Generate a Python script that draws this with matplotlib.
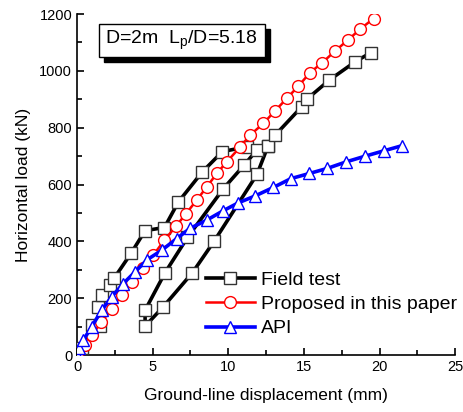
import matplotlib
matplotlib.use('Agg')
import matplotlib.pyplot as plt
from matplotlib.patches import Rectangle
from matplotlib.ticker import MultipleLocator

plt.rcParams['font.family'] = ['Liberation Sans', 'DejaVu Sans']

#field test (virgin branch, unload-reload loop, then on to the end)
field_x = [0.3, 0.97, 1.52, 1.41, 1.67, 2.18, 2.47, 3.57, 4.5, 5.78, 6.7, 8.29, 9.61, 11.22, 12.62,
           11.9, 9.08, 7.63, 5.7, 4.5, 4.5, 5.82, 7.3, 9.68, 11.04, 11.88, 12.62,
           13.1, 14.86, 15.23, 16.69, 18.39, 19.42]
field_y = [25, 106, 102, 170, 213, 246, 272, 358, 438, 449, 539, 645, 716, 733, 735,
           636, 402, 290, 170, 102, 158, 290, 414, 586, 668, 721, 735,
           774, 874, 902, 968, 1032, 1064]

#proposed model
prop_x = [0.0, 0.5, 1.0, 1.6, 2.29, 2.95, 3.61, 4.39, 5.05, 5.78, 6.55, 7.21, 7.91, 8.58, 9.24, 9.9,
          10.8, 11.44, 12.32, 13.1, 13.87, 14.64, 15.41, 16.22, 17.06, 17.9, 18.7, 19.6]
prop_y = [0, 35, 72, 115, 164, 211, 258, 305, 352, 405, 454, 498, 545, 592, 639, 680,
          733, 774, 815, 860, 903, 947, 994, 1029, 1070, 1108, 1146, 1184]

#API p-y
api_x = [0.0, 0.1, 0.42, 0.97, 1.63, 2.29, 3.06, 3.84, 4.62, 5.6, 6.59, 7.47, 8.58, 9.63, 10.67,
         11.77, 12.98, 14.14, 15.36, 16.55, 17.8, 19.05, 20.3, 21.5]
api_y = [0, 24, 53, 100, 158, 205, 252, 293, 335, 369, 410, 446, 475, 507, 536,
         560, 590, 621, 639, 657, 680, 700, 719, 737]

fig = plt.figure(figsize=(4.64, 4.12), dpi=100)
ax = fig.add_axes([0.166, 0.138, 0.815, 0.828])

ax.plot(field_x, field_y, color='black', lw=2.6, marker='s', ms=8,
        mfc='white', mec='#333333', mew=1.0, label='Field test', zorder=3)
ax.plot(prop_x, prop_y, color='red', lw=1.8, marker='o', ms=8.5,
        mfc='white', mec='red', mew=1.0, label='Proposed in this paper', zorder=4)
ax.plot(api_x, api_y, color='blue', lw=2.6, marker='^', ms=9,
        mfc='white', mec='blue', mew=1.0, label='API', zorder=5)

ax.set_xlim(0, 25)
ax.set_ylim(0, 1200)
ax.xaxis.set_major_locator(MultipleLocator(5))
ax.xaxis.set_minor_locator(MultipleLocator(2.5))
ax.yaxis.set_major_locator(MultipleLocator(200))
ax.yaxis.set_minor_locator(MultipleLocator(100))
ax.tick_params(which='both', direction='in', labelsize=10.5, width=1.2)
ax.tick_params(which='major', length=5)
ax.tick_params(which='minor', length=3.5)
ax.spines['top'].set_visible(False)
ax.spines['right'].set_visible(False)
ax.spines['left'].set_linewidth(1.2)
ax.spines['bottom'].set_linewidth(1.2)

ax.set_xlabel('Ground-line displacement (mm)', fontsize=12.5, labelpad=10)
ax.set_ylabel('Horizontal load (kN)', fontsize=12.5, labelpad=6)

#label box with a drop shadow
ax.add_patch(Rectangle((0.071, 0.859), 0.439, 0.097, transform=ax.transAxes,
                       facecolor='black', edgecolor='black', zorder=6, clip_on=False))
ax.add_patch(Rectangle((0.058, 0.874), 0.439, 0.097, transform=ax.transAxes,
                       facecolor='white', edgecolor='black', lw=1.0, zorder=7, clip_on=False))
ax.text(0.277, 0.922, 'D=2m  L$_\\mathregular{p}$/D=5.18', transform=ax.transAxes,
        ha='center', va='center', fontsize=14, zorder=8)

ax.legend(loc='lower right', bbox_to_anchor=(1.035, 0.018), frameon=False, fontsize=14,
          handlelength=2.5, handletextpad=0.3, labelspacing=0.35, borderaxespad=0.2)

fig.savefig('out.png', dpi=100)
